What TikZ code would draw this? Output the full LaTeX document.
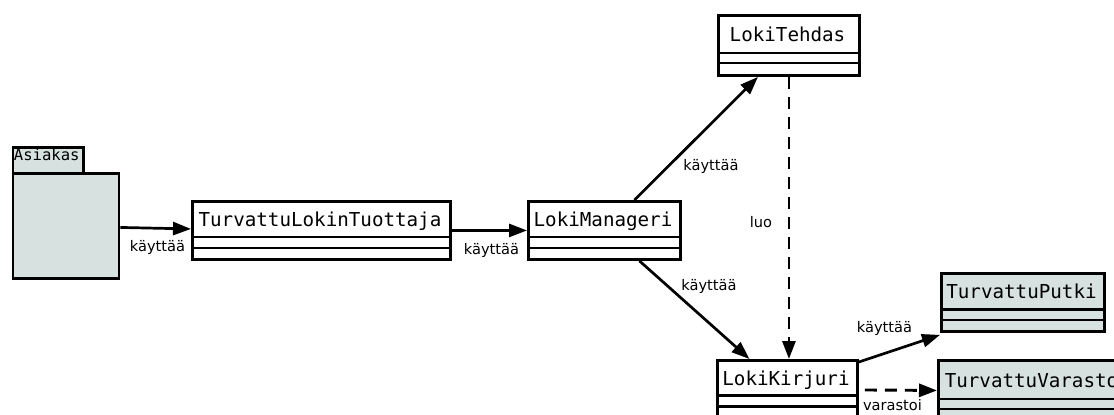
\documentclass[tikz,border=0pt]{standalone}
\usepackage{fontspec}
\setmainfont{DejaVu Sans}
\newfontfamily\clsfont{DejaVu Sans Mono}
\usetikzlibrary{arrows.meta}
\definecolor{umlfill}{RGB}{214,225,224}

\tikzset{
  uml/.style={draw=black, line width=2.9pt, fill=white, inner sep=0pt, anchor=north west},
  shaded/.style={fill=umlfill},
  clsname/.style={font=\clsfont\fontsize{19.2}{22}\selectfont, inner sep=0pt, anchor=base},
  pkgname/.style={font=\clsfont\fontsize{15.6}{18}\selectfont, inner sep=0pt, anchor=base},
  lbl/.style={font=\fontsize{14.6}{17}\selectfont, inner sep=0pt, anchor=base},
  compart/.style={draw=black, line width=2.9pt},
  uses/.style={line width=2.7pt, -{Triangle[length=18pt,width=13pt]}},
  depends/.style={uses, line width=2.9pt, dash pattern=on 12pt off 8pt},
}

% class box: #1 extra style, #2 node name, #3 left, #4 top, #5 right,
% #6 name compartment bottom, #7 middle separator, #8 bottom, #9 class name
\newcommand\umlclass[9]{%
  \node[uml,#1, minimum width=#5-#3, minimum height=#8-#4] (#2) at (#3,#4) {};
  \draw[compart] (#3,#6) -- (#5,#6);
  \draw[compart] (#3,#7) -- (#5,#7);
  \node[clsname] (#2-name) at ({(#3+#5)/2},{(#4+#6)/2+8}) {#9};
}

\begin{document}
\begin{tikzpicture}[x=1pt,y=-1pt]
  \useasboundingbox (0,0) rectangle (1114,415);
  \clip (0,0) rectangle (1114,415);

  % Asiakas package
  \node[uml,shaded, minimum width=106, minimum height=105] (asiakas) at (11.5,172) {};
  \node[uml,shaded, minimum width=70.5, minimum height=26] (asiakastab) at (11.5,146) {};
  \node[pkgname] (asiakas-name) at (46.75,160) {Asiakas};

  % classes
  \umlclass{}{tlt}{191}{200}{449}{237}{248}{258}{TurvattuLokinTuottaja}
  \umlclass{}{lm}{527}{200}{679}{237}{248}{258}{LokiManageri}
  \umlclass{}{lt}{717}{14}{858}{53}{63}{74}{LokiTehdas}
  \umlclass{}{lk}{716}{359}{856}{395.5}{406.5}{418}{LokiKirjuri}
  \umlclass{shaded}{tp}{940}{272}{1103}{309.5}{320}{330}{TurvattuPutki}
  \umlclass{shaded}{tv}{937}{359}{1126}{399}{409}{419}{TurvattuVarasto}

  % connectors
  \draw[uses] ([yshift=-1.5pt]asiakas.east) -- ([yshift=1.5pt]tlt.west);
  \draw[uses] (tlt.east) -- (lm.west);
  \draw[uses] ([xshift=30pt]lm.north) -- ([xshift=-31pt]lt.south);
  \draw[uses] ([xshift=35pt]lm.south) -- ([xshift=-38pt]lk.north);
  \draw[depends] (lt.south) -- (lt.south |- lk.north);
  \draw[uses] ([yshift=-3pt]lk.north east) -- ([yshift=-2pt]tp.south west);
  \draw[depends, shorten <=6pt] (lk.east) -- (tv.west);

  % connector labels
  \node[lbl] (l1) at (157.5,251) {käyttää};
  \node[lbl] (l2) at (491.5,254) {käyttää};
  \node[lbl] (l3) at (711,170) {käyttää};
  \node[lbl] (l4) at (709,290.5) {käyttää};
  \node[lbl] (l5) at (761,227) {luo};
  \node[lbl] (l6) at (884.5,332.5) {käyttää};
  \node[lbl] (l7) at (892.5,410) {varastoi};
\end{tikzpicture}
\end{document}
